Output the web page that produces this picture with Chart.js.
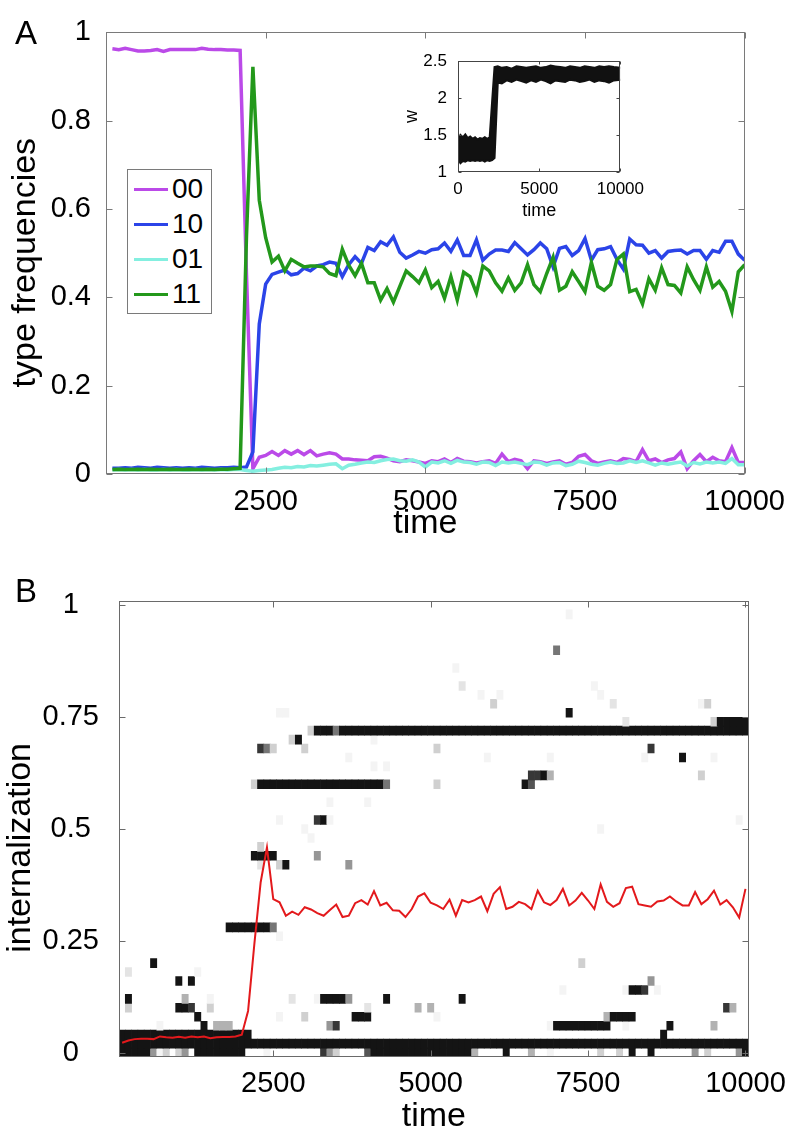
<!DOCTYPE html>
<html>
<head>
<meta charset="UTF-8" />
<script src="https://cdn.jsdelivr.net/npm/chart.js"></script>
<style>
  body { margin: 0; background: #fff; font-family: 'Liberation Sans', Arial, sans-serif; }
  #page { position: relative; width: 796px; height: 1147px; overflow: hidden; background: #fff; }
  canvas { position: absolute; }
  .tag { position: absolute; font-size: 33px; line-height: 33px; color: #000; }
  #legend { position: absolute; left: 127px; top: 169px; width: 83px; height: 143px; border: 1px solid #7a7a7a; background: #fff; }
  #legend .item { position: absolute; left: 0; height: 35px; display: flex; align-items: center; }
  #legend .swatch { width: 34px; height: 3px; margin: 0 4px 0 6px; }
  #legend .name { font-size: 28px; line-height: 28px; color: #000; }
</style>
</head>
<body>
<div id="page">
  <canvas id="chartA" width="796" height="545" style="left:0;top:0;width:796px;height:545px"></canvas>
  <canvas id="inset" width="256" height="190" style="left:395px;top:40px;width:256px;height:190px"></canvas>
  <canvas id="chartB" width="796" height="602" style="left:0;top:545px;width:796px;height:602px"></canvas>
  <div class="tag" style="left:15px;top:16px">A</div>
  <div class="tag" style="left:15px;top:574px">B</div>
  <div id="legend"></div>
</div>

<script>
// ---------- panel A: type frequencies (one sample every 100 steps) ----------
const sampleTimes = Array.from({ length: 100 }, (_, i) => (i + 1) * 100);
const typeNames = ['00', '10', '01', '11'];
const typeColors = ['#bb4ae8', '#2b44e8', '#84efe0', '#23981b'];

const freq00 = [
  0.963, 0.961, 0.964, 0.961, 0.958, 0.958, 0.959, 0.961, 0.957, 0.961,
  0.961, 0.961, 0.961, 0.961, 0.964, 0.962, 0.961, 0.961, 0.960, 0.960,
  0.959, 0.450, 0.012, 0.038, 0.042, 0.051, 0.042, 0.053, 0.045, 0.053,
  0.044, 0.053, 0.041, 0.045, 0.048, 0.045, 0.034, 0.034, 0.032, 0.031,
  0.030, 0.039, 0.040, 0.036, 0.030, 0.028, 0.032, 0.030, 0.027, 0.024,
  0.030, 0.028, 0.034, 0.026, 0.035, 0.029, 0.028, 0.025, 0.028, 0.030,
  0.024, 0.045, 0.028, 0.033, 0.030, 0.012, 0.030, 0.028, 0.024, 0.027,
  0.030, 0.022, 0.026, 0.040, 0.044, 0.030, 0.024, 0.027, 0.030, 0.026,
  0.035, 0.033, 0.028, 0.055, 0.030, 0.034, 0.026, 0.032, 0.035, 0.050,
  0.012, 0.030, 0.044, 0.028, 0.038, 0.030, 0.028, 0.060, 0.026, 0.026
];
const freq10 = [
  0.013, 0.013, 0.014, 0.013, 0.015, 0.014, 0.013, 0.015, 0.014, 0.013,
  0.014, 0.013, 0.014, 0.013, 0.015, 0.014, 0.013, 0.014, 0.014, 0.015,
  0.014, 0.016, 0.050, 0.340, 0.430, 0.452, 0.457, 0.462, 0.451, 0.454,
  0.466, 0.460, 0.471, 0.474, 0.480, 0.477, 0.447, 0.474, 0.492, 0.477,
  0.513, 0.506, 0.526, 0.518, 0.537, 0.502, 0.489, 0.496, 0.504, 0.500,
  0.508, 0.510, 0.523, 0.504, 0.530, 0.495, 0.495, 0.530, 0.484, 0.498,
  0.507, 0.507, 0.504, 0.524, 0.510, 0.496, 0.508, 0.523, 0.510, 0.469,
  0.511, 0.515, 0.495, 0.506, 0.533, 0.484, 0.508, 0.510, 0.515, 0.486,
  0.464, 0.532, 0.519, 0.518, 0.500, 0.506, 0.489, 0.504, 0.506, 0.507,
  0.498, 0.506, 0.506, 0.486, 0.506, 0.502, 0.527, 0.527, 0.498, 0.484
];
const freq01 = [
  0.009, 0.010, 0.009, 0.010, 0.009, 0.010, 0.009, 0.009, 0.010, 0.009,
  0.010, 0.009, 0.009, 0.010, 0.009, 0.010, 0.009, 0.010, 0.009, 0.010,
  0.010, 0.008, 0.006, 0.008, 0.009, 0.010, 0.013, 0.015, 0.014, 0.017,
  0.016, 0.019, 0.018, 0.020, 0.022, 0.023, 0.012, 0.020, 0.022, 0.025,
  0.027, 0.026, 0.030, 0.033, 0.034, 0.030, 0.029, 0.032, 0.027, 0.016,
  0.027, 0.025, 0.030, 0.024, 0.031, 0.027, 0.026, 0.022, 0.027, 0.026,
  0.019, 0.027, 0.025, 0.027, 0.024, 0.021, 0.027, 0.026, 0.020, 0.025,
  0.026, 0.019, 0.022, 0.029, 0.026, 0.022, 0.020, 0.024, 0.027, 0.024,
  0.025, 0.030, 0.026, 0.030, 0.025, 0.020, 0.025, 0.022, 0.025, 0.027,
  0.018, 0.026, 0.023, 0.027, 0.025, 0.027, 0.024, 0.035, 0.021, 0.021
];
const freq11 = [
  0.010, 0.011, 0.010, 0.010, 0.011, 0.010, 0.011, 0.010, 0.010, 0.011,
  0.010, 0.010, 0.011, 0.010, 0.010, 0.011, 0.010, 0.011, 0.011, 0.012,
  0.013, 0.540, 0.922, 0.620, 0.535, 0.480, 0.493, 0.460, 0.486, 0.477,
  0.469, 0.471, 0.471, 0.469, 0.454, 0.449, 0.509, 0.473, 0.449, 0.477,
  0.433, 0.433, 0.394, 0.420, 0.389, 0.425, 0.460, 0.447, 0.433, 0.462,
  0.422, 0.436, 0.398, 0.447, 0.394, 0.457, 0.447, 0.410, 0.471, 0.460,
  0.433, 0.414, 0.444, 0.416, 0.433, 0.474, 0.429, 0.413, 0.454, 0.491,
  0.416, 0.425, 0.458, 0.436, 0.413, 0.479, 0.425, 0.416, 0.429, 0.486,
  0.498, 0.413, 0.418, 0.385, 0.442, 0.416, 0.467, 0.429, 0.427, 0.410,
  0.469, 0.440, 0.416, 0.469, 0.423, 0.436, 0.414, 0.368, 0.458, 0.474
];
const typeSeries = [freq00, freq10, freq01, freq11];
const xTicksA = [2500, 5000, 7500, 10000];
const yTicksA = [0, 0.2, 0.4, 0.6, 0.8, 1];

// ---------- inset: mean w, drawn as its noise band ----------
const wTime = [0, 150, 300, 450, 600, 750, 900, 1050, 1200, 1350, 1500, 1650, 1800, 1950, 2100, 2250,
  2450, 2700, 3000, 3300, 3600, 3900, 4200, 4500, 4800, 5100, 5400, 5700, 6000, 6300, 6600, 6900,
  7200, 7500, 7800, 8100, 8400, 8700, 9000, 9300, 9600, 10000];
const wHigh = [1.42, 1.50, 1.47, 1.51, 1.46, 1.48, 1.45, 1.47, 1.44, 1.46, 1.45, 1.47, 1.45, 1.47, 1.95, 2.42,
  2.43, 2.41, 2.42, 2.40, 2.43, 2.42, 2.41, 2.42, 2.43, 2.41, 2.42, 2.44, 2.43, 2.42, 2.41, 2.43,
  2.42, 2.41, 2.43, 2.42, 2.41, 2.43, 2.42, 2.43, 2.42, 2.41];
const wLow = [1.18, 1.12, 1.15, 1.14, 1.16, 1.15, 1.16, 1.15, 1.16, 1.15, 1.16, 1.14, 1.16, 1.15, 1.16, 1.19,
  2.21, 2.20, 2.24, 2.22, 2.25, 2.23, 2.21, 2.24, 2.22, 2.25, 2.23, 2.20, 2.24, 2.23, 2.22, 2.25,
  2.24, 2.22, 2.23, 2.25, 2.22, 2.24, 2.23, 2.21, 2.24, 2.25];
const xTicksInset = [0, 5000, 10000];
const yTicksInset = [1, 1.5, 2, 2.5];

// ---------- panel B: internalization distribution + mean ----------
const meanInternalization = [
  0.022, 0.027, 0.030, 0.031, 0.031, 0.030, 0.036, 0.034, 0.033, 0.035,
  0.033, 0.036, 0.034, 0.036, 0.032, 0.034, 0.035, 0.035, 0.036, 0.040,
  0.093, 0.243, 0.381, 0.459, 0.343, 0.336, 0.306, 0.315, 0.308, 0.325,
  0.320, 0.312, 0.306, 0.319, 0.331, 0.303, 0.306, 0.334, 0.341, 0.331,
  0.361, 0.329, 0.335, 0.318, 0.317, 0.303, 0.321, 0.349, 0.356, 0.335,
  0.329, 0.321, 0.342, 0.306, 0.341, 0.336, 0.341, 0.349, 0.316, 0.355,
  0.370, 0.321, 0.326, 0.337, 0.332, 0.321, 0.362, 0.336, 0.330, 0.341,
  0.366, 0.329, 0.340, 0.357, 0.340, 0.321, 0.376, 0.337, 0.326, 0.334,
  0.368, 0.371, 0.332, 0.329, 0.326, 0.338, 0.340, 0.349, 0.338, 0.329,
  0.329, 0.359, 0.332, 0.343, 0.362, 0.331, 0.341, 0.325, 0.302, 0.366
];
// [internalization level, first time, last time, shade 1 (faint) .. 9 (black)]
const heatCells = [
  [0, 100, 500, 9], [0, 600, 600, 5], [0, 700, 700, 1], [0, 800, 800, 3], [0, 1000, 1000, 3], [0, 1100, 1100, 5],
  [0, 1300, 2000, 9], [0, 2400, 2400, 1], [0, 3300, 3300, 8], [0, 3400, 3400, 5], [0, 3500, 3500, 3],
  [0, 4000, 4000, 7], [0, 4100, 5600, 9], [0, 5700, 5700, 4], [0, 6200, 6200, 9], [0, 6600, 6600, 4],
  [0, 6900, 6900, 1], [0, 7700, 7700, 3], [0, 8000, 8000, 3], [0, 8200, 8200, 9], [0, 8500, 8500, 9],
  [0, 9200, 9200, 5], [0, 9400, 9400, 3], [0, 9900, 9900, 5], [0, 10000, 10000, 9],
  [0.02, 100, 10000, 9],
  [0.04, 100, 2100, 9], [0.04, 8700, 8700, 9],
  [0.06, 700, 700, 1], [0.06, 1400, 1400, 9], [0.06, 1600, 1800, 4], [0.06, 3400, 3400, 5], [0.06, 3500, 3500, 8],
  [0.06, 6900, 6900, 1], [0.06, 7000, 7800, 9], [0.06, 8100, 8100, 1], [0.06, 8800, 8800, 9], [0.06, 9500, 9500, 4],
  [0.08, 1300, 1300, 9], [0.08, 2600, 2600, 1], [0.08, 3000, 3000, 3], [0.08, 3800, 4000, 9], [0.08, 5100, 5100, 1],
  [0.08, 7800, 7800, 4], [0.08, 7900, 8200, 9],
  [0.10, 200, 200, 3], [0.10, 1000, 1100, 9], [0.10, 1200, 1200, 8], [0.10, 1500, 1500, 3], [0.10, 4000, 4000, 2],
  [0.10, 4800, 4800, 4], [0.10, 5000, 5000, 4], [0.10, 9700, 9700, 8], [0.10, 9800, 9800, 4],
  [0.12, 200, 200, 9], [0.12, 1100, 1100, 4], [0.12, 1500, 1500, 1], [0.12, 2800, 2800, 2], [0.12, 3200, 3200, 1],
  [0.12, 3300, 3600, 9], [0.12, 3700, 3700, 5], [0.12, 4300, 4300, 9], [0.12, 5500, 5500, 9],
  [0.14, 7100, 7100, 1], [0.14, 8100, 8100, 1], [0.14, 8200, 8300, 9], [0.14, 8400, 8400, 8], [0.14, 8600, 8600, 1],
  [0.16, 1000, 1000, 9], [0.16, 1200, 1200, 9], [0.16, 8500, 8500, 5],
  [0.18, 200, 200, 2], [0.18, 1300, 1300, 1],
  [0.20, 600, 600, 9], [0.20, 7400, 7400, 3],
  [0.26, 2600, 2600, 1],
  [0.28, 1800, 2400, 9], [0.28, 2500, 2500, 6],
  [0.42, 2300, 2300, 2], [0.42, 2600, 2600, 3], [0.42, 2700, 2700, 9], [0.42, 3700, 3700, 5],
  [0.44, 2200, 2500, 9], [0.44, 3200, 3200, 5],
  [0.46, 2300, 2300, 3],
  [0.48, 3100, 3100, 1],
  [0.50, 3000, 3000, 1], [0.50, 7700, 7700, 1],
  [0.52, 2600, 2600, 1], [0.52, 3200, 3200, 8], [0.52, 3300, 3300, 9], [0.52, 3400, 3400, 1], [0.52, 9900, 9900, 1],
  [0.56, 3400, 3400, 1], [0.56, 4000, 4000, 1],
  [0.60, 2200, 2200, 3], [0.60, 2300, 4200, 9], [0.60, 4300, 4300, 6], [0.60, 5100, 5100, 3],
  [0.60, 6500, 6500, 9], [0.60, 6600, 6600, 7],
  [0.62, 6600, 6700, 8], [0.62, 6800, 6800, 9], [0.62, 6900, 6900, 4], [0.62, 9300, 9300, 3],
  [0.64, 4100, 4100, 1], [0.64, 4300, 4300, 1],
  [0.66, 3700, 3700, 1], [0.66, 5900, 5900, 1], [0.66, 6900, 6900, 1], [0.66, 8400, 8400, 1],
  [0.66, 9000, 9000, 9], [0.66, 9500, 9500, 1],
  [0.68, 2300, 2300, 8], [0.68, 2400, 2400, 6], [0.68, 2500, 2500, 3], [0.68, 3000, 3000, 3],
  [0.68, 5100, 5100, 3], [0.68, 8500, 8500, 8],
  [0.70, 2800, 2800, 3], [0.70, 2900, 2900, 9], [0.70, 4100, 4100, 1],
  [0.72, 3100, 3100, 3], [0.72, 3200, 3400, 9], [0.72, 3500, 3500, 6], [0.72, 3600, 10000, 9],
  [0.74, 8100, 8100, 2], [0.74, 9500, 9500, 3], [0.74, 9600, 10000, 9],
  [0.76, 2600, 2700, 1], [0.76, 7200, 7200, 9],
  [0.78, 6000, 6000, 3], [0.78, 7900, 7900, 2], [0.78, 9300, 9300, 1], [0.78, 9400, 9400, 3],
  [0.80, 5800, 5800, 1], [0.80, 6100, 6100, 1], [0.80, 7700, 7700, 1],
  [0.82, 5500, 5500, 2], [0.82, 7600, 7600, 1],
  [0.86, 5400, 5400, 1],
  [0.90, 7000, 7000, 6],
  [0.98, 7200, 7200, 1]
];
const binHalf = 0.01;   // half height of an internalization bin
const timeBin = 100;
const xTicksB = [2500, 5000, 7500, 10000];
const yTicksB = [0, 0.25, 0.5, 0.75, 1];

// ---------- helpers ----------
const FONT = "'Liberation Sans', Arial, sans-serif";
Chart.defaults.font.family = FONT;
Chart.defaults.color = '#000';

const shadeGray = [255, 244, 228, 208, 178, 150, 118, 85, 55, 20];
const shadeColor = (s) => { const g = shadeGray[s]; return `rgb(${g},${g},${g})`; };
// the y labels sit a little below the axis centre in the original; pad their upper end
const NB = '\u00a0';

// matlab-like box with inward tick marks on all four sides
const frame = {
  id: 'frame',
  afterDraw(chart, args, o) {
    const { ctx, chartArea: a } = chart;
    const xs = chart.scales.x, ys = chart.scales.y;
    const L = Math.round(a.left) + 0.5, R = Math.round(a.right) - 0.5;
    const T = Math.round(a.top) + 0.5, B = Math.round(a.bottom) - 0.5;
    ctx.save();
    ctx.strokeStyle = o.color;
    ctx.lineWidth = 1;
    ctx.beginPath();
    xs.ticks.forEach(t => {
      const p = Math.round(xs.getPixelForValue(t.value)) + 0.5;
      ctx.moveTo(p, B); ctx.lineTo(p, B - o.len);
      ctx.moveTo(p, T); ctx.lineTo(p, T + o.len);
    });
    ys.ticks.forEach(t => {
      const p = Math.round(ys.getPixelForValue(t.value)) + 0.5;
      ctx.moveTo(L, p); ctx.lineTo(L + o.len, p);
      ctx.moveTo(R, p); ctx.lineTo(R - o.len, p);
    });
    ctx.stroke();
    ctx.strokeRect(L, T, R - L, B - T);
    ctx.restore();
  }
};

function axis(opts) {
  return {
    type: 'linear',
    min: opts.min, max: opts.max,
    offset: false,
    afterBuildTicks: s => { s.ticks = opts.ticks.map(v => ({ value: v })); },
    afterFit: s => { if (opts.width != null) s.width = opts.width; if (opts.height != null) s.height = opts.height; },
    grid: { display: false, drawTicks: false, offset: false },
    border: { display: false },
    ticks: {
      autoSkip: false, maxRotation: 0, color: '#000',
      font: { size: opts.tickSize }, padding: opts.tickPad,
      crossAlign: opts.crossAlign || 'near',
      callback: v => String(v)
    },
    title: {
      display: true, text: opts.title, color: '#000',
      font: { size: opts.titleSize }, padding: opts.titlePad
    }
  };
}

// ---------- panel A ----------
new Chart(document.getElementById('chartA'), {
  type: 'line',
  data: {
    datasets: typeNames.map((name, i) => ({
      label: name,
      data: sampleTimes.map((t, j) => ({ x: t, y: typeSeries[i][j] })),
      borderColor: typeColors[i],
      borderWidth: 3.5,
      pointRadius: 0,
      tension: 0,
      order: typeNames.length - 1 - i
    }))
  },
  options: {
    responsive: false, animation: false, devicePixelRatio: 1,
    layout: { padding: { left: 0, right: 40, top: 18, bottom: 0 } },
    plugins: { legend: { display: false }, tooltip: { enabled: false }, frame: { color: '#7a7a7a', len: 6 } },
    scales: {
      x: axis({ min: 0, max: 10000, ticks: xTicksA, height: 71, tickSize: 29, tickPad: 11,
                title: 'time', titleSize: 34, titlePad: { top: 0, bottom: 1 } }),
      y: axis({ min: 0, max: 1, ticks: yTicksA, width: 106, tickSize: 29, tickPad: 15,
                title: 'type frequencies' + NB + NB, titleSize: 34, titlePad: { top: 5, bottom: 0 } })
    }
  },
  plugins: [frame]
});

// legend box of panel A
const legendEl = document.getElementById('legend');
typeNames.forEach((name, i) => {
  const item = document.createElement('div');
  item.className = 'item';
  item.style.top = (1.5 + 35 * i) + 'px';
  item.innerHTML = `<div class="swatch" style="background:${typeColors[i]}"></div><span class="name">${name}</span>`;
  legendEl.appendChild(item);
});

// ---------- inset ----------
new Chart(document.getElementById('inset'), {
  type: 'line',
  data: {
    datasets: [
      { data: wTime.map((t, i) => ({ x: t, y: wHigh[i] })), borderColor: '#111', borderWidth: 2, pointRadius: 0, fill: false },
      { data: wTime.map((t, i) => ({ x: t, y: wLow[i] })), borderColor: '#111', borderWidth: 2, pointRadius: 0,
        fill: '-1', backgroundColor: '#111' }
    ]
  },
  options: {
    responsive: false, animation: false, devicePixelRatio: 1,
    layout: { padding: { left: 0, right: 25, top: 14, bottom: 4 } },
    plugins: { legend: { display: false }, tooltip: { enabled: false }, frame: { color: '#444', len: 3 } },
    scales: {
      x: axis({ min: 0, max: 10000, ticks: xTicksInset, height: 54, tickSize: 17, tickPad: 7,
                title: 'time', titleSize: 18, titlePad: { top: 0, bottom: 4 } }),
      y: axis({ min: 1, max: 2.5, ticks: yTicksInset, width: 63, tickSize: 17, tickPad: 11,
                title: 'w', titleSize: 18, titlePad: { top: 6, bottom: 0 } })
    }
  },
  plugins: [frame]
});

// ---------- panel B ----------
const heatData = [];
heatCells.forEach(([level, from, to, shade]) => {
  for (let t = from; t <= to; t += timeBin) {
    heatData.push({ x: t, y: [level - binHalf, level + binHalf], s: shade });
  }
});

new Chart(document.getElementById('chartB'), {
  type: 'bar',
  data: {
    datasets: [
      {
        type: 'line',
        data: sampleTimes.map((t, i) => ({ x: t, y: meanInternalization[i] })),
        borderColor: '#e3191c', borderWidth: 2, pointRadius: 0, tension: 0, order: 0
      },
      {
        type: 'bar',
        data: heatData,
        backgroundColor: c => (c.raw ? shadeColor(c.raw.s) : '#000'),
        borderWidth: 0,
        barPercentage: 1, categoryPercentage: 1, grouped: false,
        order: 1
      }
    ]
  },
  options: {
    responsive: false, animation: false, devicePixelRatio: 1,
    layout: { padding: { left: 0, right: 40, top: 56, bottom: 6 } },
    plugins: { legend: { display: false }, tooltip: { enabled: false }, frame: { color: '#6a6a6a', len: 6 } },
    scales: {
      x: axis({ min: timeBin / 2, max: 10000 + timeBin / 2, ticks: xTicksB, height: 84, tickSize: 29, tickPad: 10,
                title: 'time', titleSize: 34, titlePad: { top: 0, bottom: 4 } }),
      y: axis({ min: -binHalf, max: 1 + binHalf, ticks: yTicksB, width: 119, tickSize: 29, tickPad: 20,
                crossAlign: 'center', title: 'internalization' + NB + NB + NB + NB, titleSize: 34,
                titlePad: { top: 0, bottom: 0 } })
    }
  },
  plugins: [frame]
});
</script>
</body>
</html>
